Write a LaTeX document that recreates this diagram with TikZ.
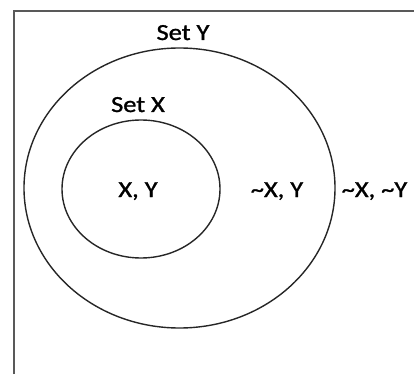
\documentclass[tikz,border=0pt]{standalone}
\usepackage{fontspec}
\setmainfont{Carlito}
\newfontfamily\labelfont{Carlito}[FakeBold=1.2]
\begin{document}
\begin{tikzpicture}[x=1pt,y=-1pt,
    setline/.style={line width=1.4pt,draw=black!85},
    setlabel/.style={anchor=base,inner sep=0pt,font=\labelfont\fontsize{23}{27}\selectfont,xscale=1.15,transform shape}]
    \useasboundingbox (0,0) rectangle (414,374);

    % Frame (only top and left edges show)
    \draw[line width=2pt,draw=black!65] (14,374) -- (14,11) -- (414,11);

    % Set Y and Set X
    \draw[setline] (179.5,188) ellipse [x radius=155.5,y radius=140];
    \draw[setline] (141,189) ellipse [x radius=79,y radius=69];

    % Labels
    \node[setlabel] (labY) at (183,40) {Set Y};
    \node[setlabel] (labX) at (138,112) {Set X};
    \node[setlabel] (xy) at (138,197) {X, Y};
    \node[setlabel] (nxy) at (277,197) {\textasciitilde X, Y};
    \node[setlabel] (nxny) at (374.5,197) {\textasciitilde X, \textasciitilde Y};
\end{tikzpicture}
\end{document}
